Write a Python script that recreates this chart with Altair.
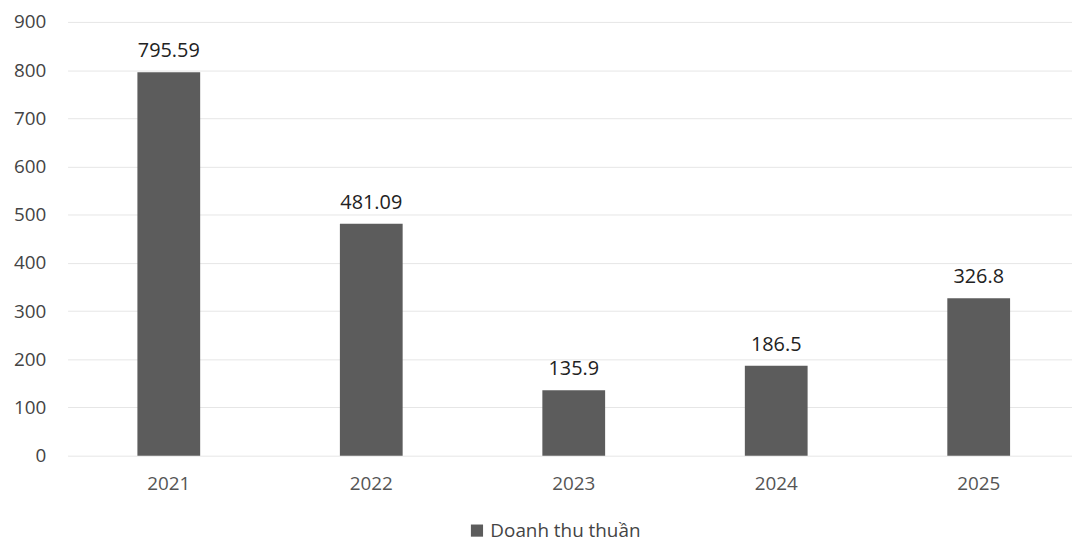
import altair as alt
import pandas as pd

years = ["2021", "2022", "2023", "2024", "2025"]
revenue = [795.59, 481.09, 135.9, 186.5, 326.8]
labels = ["795.59", "481.09", "135.9", "186.5", "326.8"]
series = "Doanh thu thuần"

df = pd.DataFrame({"year": years, "value": revenue, "label": labels, "series": [series] * len(years)})

FONT = "Open Sans"

x = alt.X("year:N", title=None, sort=years,
          scale=alt.Scale(paddingInner=0.69, paddingOuter=0.345, range=[0, 1020]),
          axis=alt.Axis(labelAngle=0, domain=False, ticks=False, grid=False, labelPadding=19,
                        labelFontSize=19, labelColor="#555555", labelFont=FONT))
y = alt.Y("value:Q", title=None, scale=alt.Scale(domain=[0, 900]),
          axis=alt.Axis(values=list(range(0, 901, 100)), domain=False, ticks=False, grid=True,
                        labelPadding=22, labelFontSize=19, labelColor="#444444",
                        labelFont=FONT, gridColor="#e6e6e6"))

bars = alt.Chart(df).mark_bar(color="#5c5c5c").encode(
    x=x, y=y,
    color=alt.Color("series:N", scale=alt.Scale(range=["#5c5c5c"]),
                    legend=alt.Legend(title=None, orient="none", legendX=403, legendY=503,
                                      symbolType="square", symbolSize=150,
                                      labelFontSize=19, labelFont=FONT, labelColor="#444444"))
)

text = alt.Chart(df).mark_text(baseline="bottom", dy=-11, fontSize=20, font=FONT, color="#222222").encode(
    x=alt.X("year:N", sort=years), y="value:Q", text="label:N"
)

chart = (bars + text).properties(
    width=1010, height=437,
    autosize=alt.AutoSizeParams(type="none"),
    padding={"left": 60, "top": 12, "right": 2, "bottom": 90},
).configure_view(stroke=None)

chart.save("out.html", embed_options={"renderer": "svg", "actions": False})
